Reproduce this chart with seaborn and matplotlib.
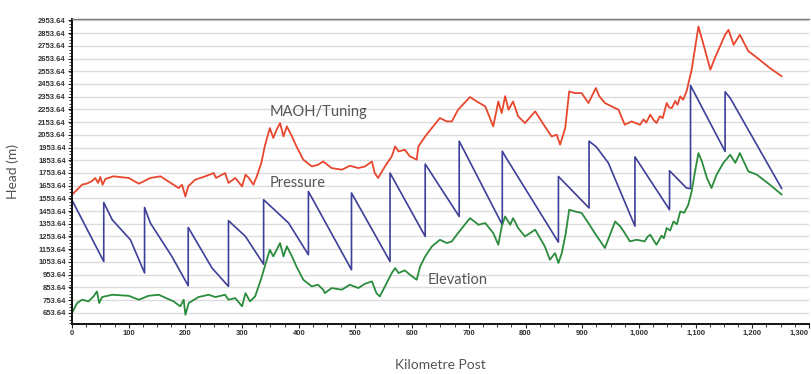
# plot.py
# Head profile along the pipeline (MAOH/Tuning, Pressure, Elevation)
import matplotlib
matplotlib.use("Agg")
import matplotlib.pyplot as plt
from matplotlib.ticker import MultipleLocator, FuncFormatter, FixedLocator
import seaborn as sns

# ===================== data =====================
maoh_km = [0, 0, 9, 18, 26, 35, 41, 46, 50, 54, 59, 73, 100, 118, 138, 156, 179, 188, 194, 200,
           205, 217, 235, 250, 254, 270, 276, 288, 300, 306, 312, 320, 326, 334, 340, 349, 355,
           361, 367, 373, 379, 388, 396, 408, 423, 434, 443, 458, 476, 490, 505, 517, 529, 534,
           540, 552, 564, 570, 576, 587, 596, 608, 611, 623, 637, 649, 661, 670, 681, 702, 714,
           729, 743, 752, 758, 764, 770, 778, 787, 799, 817, 834, 846, 855, 861, 870, 877, 887,
           899, 911, 924, 930, 940, 952, 964, 975, 987, 1002, 1008, 1013, 1020, 1026, 1031, 1037,
           1042, 1049, 1053, 1058, 1064, 1068, 1073, 1078, 1084, 1093, 1105, 1114, 1126, 1134,
           1152, 1158, 1167, 1178, 1193, 1205, 1231, 1252]
maoh_head = [2500, 1582, 1622, 1662, 1670, 1689, 1714, 1675, 1722, 1661, 1706, 1727, 1714, 1669,
             1714, 1727, 1661, 1635, 1661, 1569, 1648, 1700, 1727, 1753, 1714, 1753, 1675, 1714,
             1648, 1740, 1714, 1661, 1727, 1833, 1964, 2107, 2029, 2094, 2146, 2041, 2120, 2041,
             1962, 1858, 1805, 1818, 1844, 1792, 1779, 1810, 1792, 1805, 1844, 1753, 1714, 1805,
             1884, 1962, 1923, 1936, 1884, 1858, 1962, 2041, 2120, 2186, 2159, 2159, 2251, 2351,
             2316, 2277, 2120, 2316, 2225, 2358, 2251, 2316, 2199, 2146, 2238, 2120, 2041, 2054,
             1976, 2107, 2395, 2382, 2382, 2304, 2422, 2358, 2304, 2277, 2251, 2133, 2159, 2133,
             2175, 2150, 2212, 2170, 2146, 2200, 2185, 2304, 2270, 2264, 2320, 2290, 2356, 2330,
             2395, 2566, 2906, 2762, 2566, 2658, 2841, 2880, 2762, 2841, 2712, 2672, 2579, 2514]

pressure_km = [0, 0, 56, 56, 71, 103, 128, 128, 138, 176, 205, 205, 247, 276, 276, 306, 338, 338,
               382, 417, 417, 493, 493, 561, 561, 623, 623, 683, 683, 759, 759, 764, 858, 858,
               912, 912, 925, 946, 993, 993, 1054, 1054, 1084, 1091, 1091, 1152, 1152, 1161, 1252]
pressure_head = [1090, 1540, 1057, 1521, 1385, 1228, 967, 1482, 1361, 1098, 866, 1325, 1005, 861,
                 1378, 1254, 1035, 1543, 1360, 1110, 1608, 992, 1596, 1057, 1753, 1254, 1824,
                 1411, 2004, 1346, 1925, 1885, 1209, 1726, 1478, 2004, 1958, 1833, 1335, 1880,
                 1464, 1771, 1635, 1630, 2442, 1923, 2392, 2343, 1630]

elev_km = [0, 0, 9, 18, 29, 38, 44, 48, 53, 71, 100, 118, 135, 153, 179, 191, 197, 200, 206, 223,
           241, 253, 270, 276, 288, 300, 306, 314, 323, 334, 340, 349, 355, 361, 367, 373, 379,
           388, 396, 408, 423, 434, 443, 446, 458, 476, 490, 505, 517, 529, 537, 543, 552, 564,
           570, 576, 587, 596, 608, 614, 623, 635, 649, 661, 670, 681, 702, 717, 729, 743, 752,
           758, 764, 773, 778, 787, 799, 817, 834, 843, 852, 858, 864, 871, 877, 887, 899, 911,
           922, 940, 958, 967, 975, 984, 996, 1010, 1015, 1020, 1025, 1031, 1040, 1044, 1049,
           1055, 1061, 1067, 1073, 1080, 1087, 1093, 1099, 1105, 1111, 1120, 1128, 1137, 1149,
           1161, 1170, 1178, 1193, 1208, 1231, 1252]
elev_head = [1090, 651, 730, 756, 743, 782, 821, 730, 777, 795, 787, 756, 787, 795, 743, 704, 756,
             638, 730, 777, 795, 777, 795, 756, 769, 704, 808, 743, 782, 926, 1017, 1149, 1097,
             1149, 1202, 1097, 1176, 1097, 1017, 913, 861, 874, 835, 808, 848, 835, 874, 848, 882,
             900, 808, 782, 861, 966, 1005, 966, 987, 953, 913, 1017, 1097, 1176, 1228, 1202,
             1215, 1281, 1398, 1346, 1359, 1281, 1189, 1333, 1411, 1346, 1398, 1320, 1254, 1307,
             1176, 1071, 1123, 1045, 1123, 1281, 1464, 1451, 1438, 1359, 1281, 1163, 1372, 1333,
             1281, 1215, 1228, 1215, 1250, 1268, 1230, 1189, 1260, 1240, 1320, 1300, 1372, 1350,
             1451, 1440, 1503, 1608, 1766, 1910, 1845, 1713, 1635, 1740, 1833, 1897, 1833, 1910,
             1766, 1740, 1661, 1583]

y_ticks = [653.64 + 100 * i for i in range(24)]
x_ticks = list(range(0, 1301, 100))

# ===================== style =====================
sns.set_style("white")
plt.rcParams['font.family'] = ['Lato', 'DejaVu Sans']

fig = plt.figure(figsize=(8.12, 3.74), dpi=100)
ax = fig.add_axes([72 / 812, 1 - 324 / 374, 737 / 812, 305 / 374])

# horizontal grid lines at every labelled head
for yv in y_ticks:
    ax.axhline(yv, color="#dcdcdc", lw=1.0, zorder=0)

sns.lineplot(x=maoh_km, y=maoh_head, sort=False, estimator=None, color="#e8472e", lw=1.3, ax=ax)
sns.lineplot(x=pressure_km, y=pressure_head, sort=False, estimator=None, color="#3d3f98", lw=1.2, ax=ax)
sns.lineplot(x=elev_km, y=elev_head, sort=False, estimator=None, color="#2b8c3c", lw=1.3, ax=ax)

ax.text(349, 2235, "MAOH/Tuning", fontsize=10.5, color="#555555", va="center", ha="left")
ax.text(349, 1677, "Pressure", fontsize=10.5, color="#555555", va="center", ha="left")
ax.text(628, 913, "Elevation", fontsize=10.5, color="#555555", va="center", ha="left")

ax.set_xlim(0, 1300)
ax.set_ylim(565, 2965)

ax.yaxis.set_major_locator(FixedLocator(y_ticks))
ax.yaxis.set_minor_locator(MultipleLocator(25))
ax.yaxis.set_major_formatter(FuncFormatter(lambda v, p: f"{v:.2f}"))
ax.xaxis.set_major_locator(FixedLocator(x_ticks))
ax.xaxis.set_minor_locator(MultipleLocator(25))
ax.xaxis.set_major_formatter(FuncFormatter(lambda v, p: f"{int(v):,}"))

ax.tick_params(axis="both", which="major", direction="out", length=3, width=0.8,
               color="#222222", labelsize=5.5, labelcolor="#333333", pad=1.5)
ax.tick_params(axis="both", which="minor", direction="out", length=2, width=0.6, color="#222222")
ax.tick_params(axis="y", left=True, which="both")
ax.tick_params(axis="x", bottom=True, which="both")
for lab in ax.get_xticklabels() + ax.get_yticklabels():
    lab.set_fontfamily(["Liberation Sans", "DejaVu Sans"])
    lab.set_fontweight("bold")
# last x label sits at the figure edge
ax.get_xticklabels()[-1].set_horizontalalignment("right")

for side in ["left", "bottom"]:
    ax.spines[side].set_color("#111111")
    ax.spines[side].set_linewidth(1.4)
ax.spines["top"].set_color("#777777")
ax.spines["top"].set_linewidth(1.0)
ax.spines["right"].set_visible(False)

ax.set_xlabel("Kilometre Post", fontsize=10, color="#555555", labelpad=16)
ax.set_ylabel("Head (m)", fontsize=10, color="#555555", labelpad=14)

fig.savefig("out.png", dpi=100)
